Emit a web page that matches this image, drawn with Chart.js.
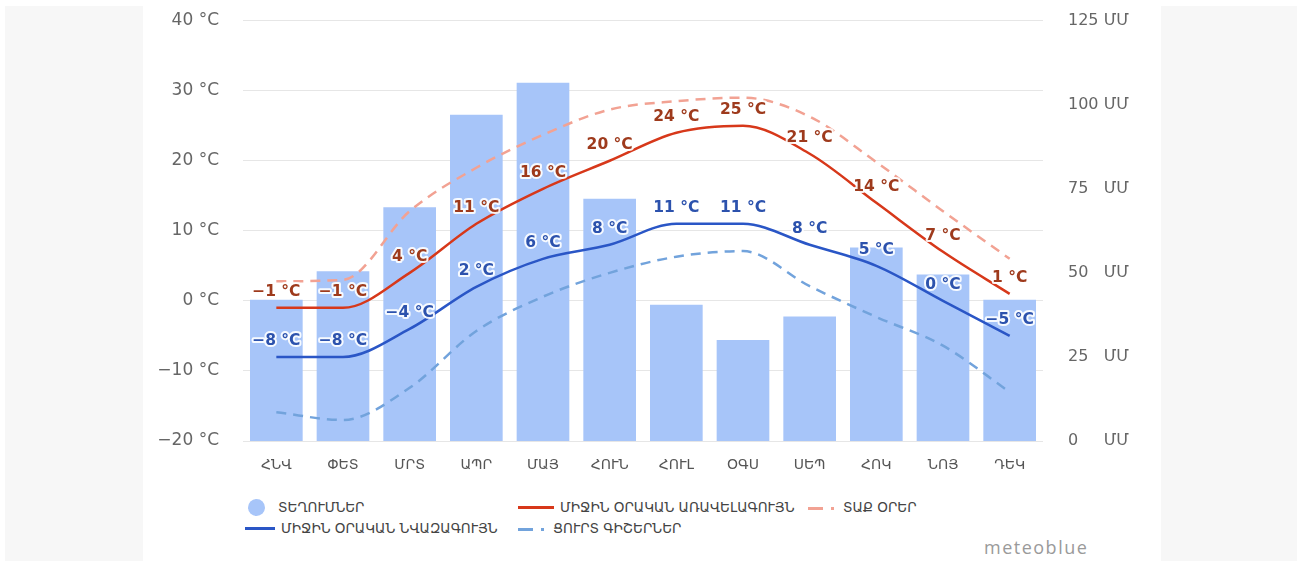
<!DOCTYPE html>
<html>
<head>
<meta charset="utf-8">
<script src="https://cdn.jsdelivr.net/npm/chart.js@4.4.1/dist/chart.umd.min.js"></script>
<style>
  html, body { margin: 0; padding: 0; background: #fff; }
  body { width: 1298px; height: 567px; position: relative; overflow: hidden; font-family: "DejaVu Sans", sans-serif; }
  .side { position: absolute; top: 6px; height: 555px; background: #f7f7f7; }
  #wrap { position: absolute; left: 143px; top: -14px; width: 1017px; height: 494px; }
  #legend { position: absolute; left: 245px; top: 498px; display: grid; grid-template-columns: 273px 290px auto; row-gap: 3px; font-size: 13.5px; color: #444; }
  .item { display: flex; align-items: center; height: 18px; white-space: nowrap; }
  .sym { display: inline-block; margin-right: 6px; position: relative; }
  #brand { position: absolute; left: 984px; top: 535px; font-family: "Open Sans", sans-serif; font-size: 18px; letter-spacing: 1.5px; color: #9a9a9a; }
</style>
</head>
<body>
<div class="side" style="left:5px;width:138px"></div>
<div class="side" style="left:1161px;width:136px"></div>
<div id="wrap"><canvas id="climate"></canvas></div>
<div id="legend"></div>
<div id="brand">meteoblue</div>
<script>
// Ամսական տվյալներ
const months = ['ՀՆՎ', 'ՓԵՏ', 'ՄՐՏ', 'ԱՊՐ', 'ՄԱՅ', 'ՀՈՒՆ', 'ՀՈՒԼ', 'ՕԳՍ', 'ՍԵՊ', 'ՀՈԿ', 'ՆՈՅ', 'ԴԵԿ'];
const precipitation = [42, 50.5, 69.5, 97, 106.5, 72, 40.5, 30, 37, 57.5, 49.5, 42];
const maxTemp = [-1, -1, 4, 11, 16, 20, 24, 25, 21, 14, 7, 1];
const minTemp = [-8, -8, -4, 2, 6, 8, 11, 11, 8, 5, 0, -5];
const hotDays = [2.8, 3, 12.8, 19, 23.7, 27.3, 28.5, 29, 26.3, 19.8, 12.8, 6];
const coldNights = [-15.9, -17, -12.4, -4.3, 0.6, 4, 6.3, 7.1, 2.1, -2.3, -6.4, -13];
const tempTicks = [-20, -10, 0, 10, 20, 30, 40];
const mmTicks = [0, 25, 50, 75, 100, 125];

const fmtTemp = v => (v < 0 ? '\u2212' + Math.abs(v) : v) + ' °C';
// թվերը լրացվում են, որպեսզի «ՄՄ»-ը հավասարվի
const fmtMm = v => String(v) + '\u2007'.repeat(3 - String(v).length) + ' ՄՄ';

// Տվյալների պիտակներ սպիտակ եզրագծով
const pointLabels = {
    id: 'pointLabels',
    afterDatasetsDraw(chart) {
        const ctx = chart.ctx;
        chart.data.datasets.forEach((ds, i) => {
            if (!ds.labelColor) return;
            const meta = chart.getDatasetMeta(i);
            ctx.save();
            ctx.font = 'bold 15.5px "DejaVu Sans"';
            ctx.textAlign = 'center';
            ctx.textBaseline = 'middle';
            ctx.lineJoin = 'round';
            meta.data.forEach((pt, j) => {
                const txt = fmtTemp(ds.data[j]);
                ctx.strokeStyle = 'rgba(255,255,255,0.9)';
                ctx.lineWidth = 4;
                ctx.strokeText(txt, pt.x, pt.y - 16);
                ctx.fillStyle = ds.labelColor;
                ctx.fillText(txt, pt.x, pt.y - 16);
            });
            ctx.restore();
        });
    }
};

const chart = new Chart(document.getElementById('climate'), {
    data: {
        labels: months,
        datasets: [
            { type: 'bar', label: 'ՏԵՂՈՒՄՆԵՐ', data: precipitation, yAxisID: 'y1', order: 10,
              backgroundColor: '#a7c5f9', barPercentage: 0.79, categoryPercentage: 1, legendSym: 'dot' },
            { type: 'line', label: 'ՄԻՋԻՆ ՕՐԱԿԱՆ ԱՌԱՎԵԼԱԳՈՒՅՆ', data: maxTemp, yAxisID: 'y', order: 2,
              borderColor: '#d7381a', borderWidth: 2.5, labelColor: '#9e3a1c', legendSym: 'line' },
            { type: 'line', label: 'ՏԱՔ ՕՐԵՐ', data: hotDays, yAxisID: 'y', order: 4,
              borderColor: '#f2a293', borderWidth: 2.5, borderDash: [10, 7], legendSym: 'dash' },
            { type: 'line', label: 'ՄԻՋԻՆ ՕՐԱԿԱՆ ՆՎԱԶԱԳՈՒՅՆ', data: minTemp, yAxisID: 'y', order: 1,
              borderColor: '#2a56c6', borderWidth: 2.5, labelColor: '#2c52ad', legendSym: 'line' },
            { type: 'line', label: 'ՑՈՒՐՏ ԳԻՇԵՐՆԵՐ', data: coldNights, yAxisID: 'y', order: 3,
              borderColor: '#72a3dc', borderWidth: 2.5, borderDash: [10, 7], legendSym: 'dash' }
        ]
    },
    options: {
        responsive: true,
        maintainAspectRatio: false,
        animation: false,
        layout: { padding: { top: 4, left: 0, right: 0, bottom: 0 } },
        elements: {
            point: { radius: 0, hoverRadius: 0 },
            line: { cubicInterpolationMode: 'monotone', fill: false }
        },
        plugins: { legend: { display: false }, tooltip: { enabled: false } },
        scales: {
            x: {
                grid: { display: false },
                border: { display: false },
                ticks: { color: '#555', font: { family: 'DejaVu Sans', size: 14 }, padding: 8, maxRotation: 0 },
                afterFit: s => { s.height = 39; }
            },
            y: {
                position: 'left',
                min: -20, max: 40,
                afterBuildTicks: s => { s.ticks = tempTicks.map(v => ({ value: v })); },
                grid: { color: '#e6e6e6', drawTicks: false },
                border: { display: false },
                ticks: { color: '#666', font: { family: 'DejaVu Sans', size: 17 }, padding: 24, callback: v => fmtTemp(v) },
                afterFit: s => { s.width = 100; }
            },
            y1: {
                position: 'right',
                min: 0, max: 125,
                afterBuildTicks: s => { s.ticks = mmTicks.map(v => ({ value: v })); },
                grid: { display: false, drawTicks: false },
                border: { display: false },
                ticks: { color: '#666', font: { family: 'DejaVu Sans', size: 16 }, padding: 25, callback: v => fmtMm(v) },
                afterFit: s => { s.width = 117; }
            }
        }
    },
    plugins: [pointLabels]
});

// Լեգենդ
const legendEl = document.getElementById('legend');
chart.data.datasets.forEach((ds, k) => {
    const item = document.createElement('div');
    item.className = 'item';
    if (k === 3) item.style.gridColumn = '1';
    const sym = document.createElement('span');
    sym.className = 'sym';
    if (ds.legendSym === 'dot') {
        sym.style.cssText = 'width:17px;height:17px;border-radius:50%;background:' + ds.backgroundColor + ';margin-left:3px;margin-right:13px';
    } else if (ds.legendSym === 'line') {
        sym.style.cssText = 'width:' + (k === 3 ? 30 : 36) + 'px;height:3px;background:' + ds.borderColor;
    } else {
        sym.innerHTML = '<span style="display:inline-block;width:15px;height:3px;vertical-align:middle;background:' + ds.borderColor +
            '"></span><span style="display:inline-block;width:3px;height:3px;margin-left:8px;vertical-align:middle;background:' + ds.borderColor + '"></span>';
        sym.style.marginRight = '9px';
    }
    item.appendChild(sym);
    item.appendChild(document.createTextNode(ds.label));
    legendEl.appendChild(item);
});
</script>
</body>
</html>
